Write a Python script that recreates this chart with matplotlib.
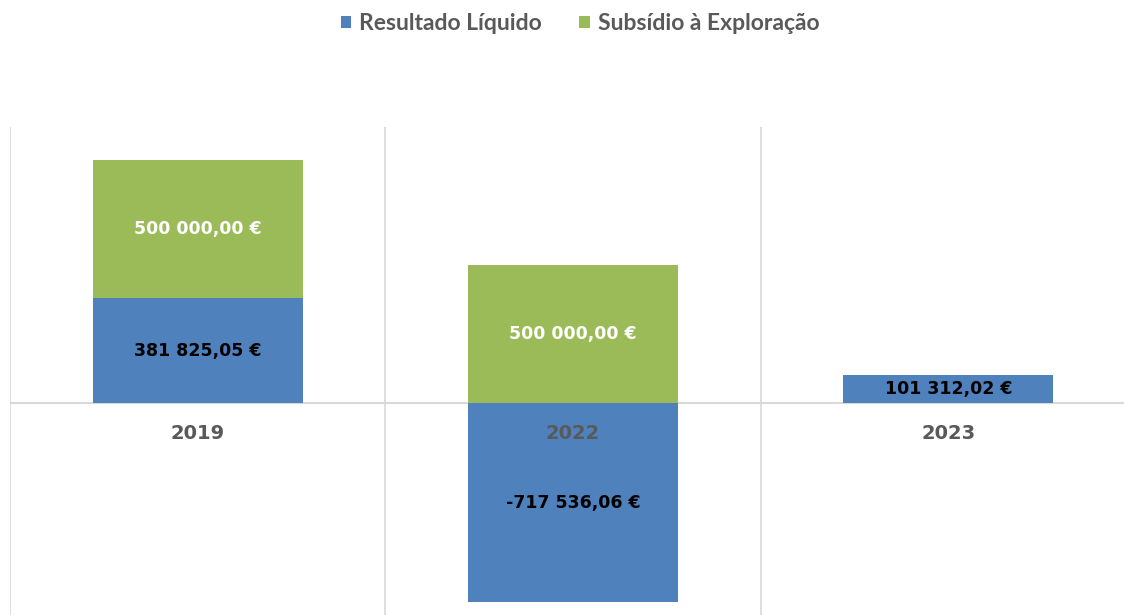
import matplotlib.pyplot as plt
import numpy as np

# data
anos = ["2019", "2022", "2023"]
resultado = [381825.05, -717536.06, 101312.02]
subsidio = [500000.00, 500000.00, 0.0]
series_names = ["Resultado Líquido", "Subsídio à Exploração"]

blue = "#4F81BD"
green = "#9BBB59"
grid_c = "#D9D9D9"


def eur(v):
    s = f"{v:,.2f}".replace(",", " ").replace(".", ",")
    return s + " €"


plt.rcParams['font.family'] = ['Lato', 'DejaVu Sans']

W, H = 1124, 615
fig = plt.figure(figsize=(W / 100, H / 100), dpi=100)
# axes spans from x=10px to ~1136px (right edge falls off the image), y from 127px to bottom
ax = fig.add_axes([10 / W, 0, 1126 / W, (H - 127) / H])

x = np.arange(len(anos))
width = 0.56

res = np.array(resultado)
sub = np.array(subsidio)
# positive parts stack from 0, negative from 0 downwards
sub_bottom = np.where(res > 0, res, 0)

b1 = ax.bar(x, res, width, color=blue, label=series_names[0], zorder=2)
b2 = ax.bar(x, sub, width, bottom=sub_bottom, color=green, label=series_names[1], zorder=2)

ax.set_xlim(-0.5, 2.5)
ax.set_ylim(-765000, 1000000)

for xi in np.arange(-0.5, 3.0, 1.0):
    ax.axvline(xi, color=grid_c, lw=1.2, zorder=1)
ax.axhline(0, color=grid_c, lw=1.5, zorder=1)

for s in ax.spines.values():
    s.set_visible(False)
ax.set_xticks([])
ax.set_yticks([])

val_font = ['DejaVu Sans']

# value labels
for i in range(len(anos)):
    if res[i] != 0:
        ax.text(x[i], res[i] / 2, eur(res[i]), ha="center", va="center",
                fontsize=12.5, fontweight="bold", color="black", zorder=4,
                family=val_font)
    if sub[i] != 0:
        ax.text(x[i], sub_bottom[i] + sub[i] / 2, eur(sub[i]), ha="center", va="center",
                fontsize=12.5, fontweight="bold", color="white", zorder=4,
                family=val_font)

# category labels just below the zero line
for i, a in enumerate(anos):
    ax.annotate(a, (x[i], 0), xytext=(0, -30), textcoords="offset pixels",
                ha="center", va="center", fontsize=14, fontweight="bold",
                color="#595959", zorder=5, family=val_font)

fig.legend(handles=[b1, b2], labels=series_names, loc="center",
           bbox_to_anchor=(580 / W, 1 - 24 / H), ncol=2, frameon=False,
           handlelength=0.45, handleheight=0.45, handletextpad=0.35,
           columnspacing=1.65, prop={"weight": "bold", "size": 16.5})
for t in fig.legends[0].get_texts():
    t.set_color("#595959")

fig.savefig("out.png", dpi=100)
